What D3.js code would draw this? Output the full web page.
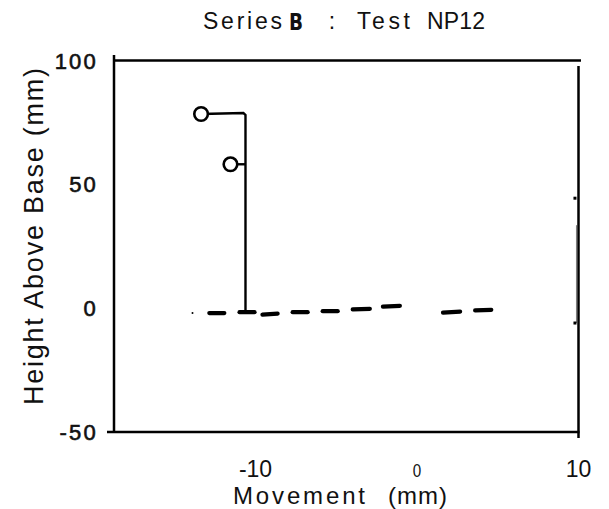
<!DOCTYPE html>
<html>
<head>
<meta charset="utf-8">
<script src="https://cdn.jsdelivr.net/npm/d3@7/dist/d3.min.js"></script>
<style>
  html, body { margin: 0; padding: 0; background: #fff; }
  svg { display: block; }
  text { font-family: "Liberation Sans", Arial, Helvetica, sans-serif; fill: #111; }
  text.heavy { stroke: #111; stroke-width: 0.6px; }
</style>
</head>
<body>
<svg id="chart" width="609" height="509"></svg>
<script>
// ---- data ----
const xTicks = [-10, 0, 10];
const xTickLabels = ["-10", "0", "10"];
const yTicks = [100, 50, 0, -50];
const yTickLabels = ["100", "50", "0", "-50"];

// solid trace: upper arm, then vertical drop to base
const traceMain = [[-13.37, 78.4], [-10.75, 78.8], [-10.62, 78.0], [-10.62, -1.6]];
// branch from second marker to the vertical
const traceBranch = [[-11.55, 58.1], [-10.62, 58.1]];
// circle markers
const markersX = [-13.37, -11.55];
const markersY = [78.4, 58.1];
// base readings (short dashes): start x, end x, heights
const dashX0 = [-12.86, -10.99, -9.57, -7.70, -5.84, -3.98, -2.11, 1.61, 3.60];
const dashX1 = [-11.93, -10.06, -8.63, -6.77, -4.91, -2.92, -1.06, 2.67, 4.60];
const dashY0 = [-2.0, -1.6, -2.6, -1.6, -1.2, -0.5, 0.6, -1.8, -0.9];
const dashY1 = [-2.0, -1.6, -2.2, -1.6, -1.2, -0.3, 0.9, -1.4, -0.7];
const dotX = [-13.9];
const dotY = [-2.0];
// faint marker at right edge
const edgeX = 9.75;
const edgeY = [44.4, -6.0];
const edgeFaintTop = 33.5;

// ---- layout ----
const svg = d3.select("#chart");
const x = d3.scaleLinear().domain([-18.7, 10]).range([115, 578.5]);
const y = d3.scaleLinear().domain([-50, 100]).range([432, 60.5]);

// frame
const frame = svg.append("g").attr("stroke", "#000").attr("stroke-width", 2.5).attr("fill", "none");
frame.append("line").attr("x1", x.range()[0] - 1).attr("x2", x.range()[0] - 1).attr("y1", 55).attr("y2", y(-50) + 1);
frame.append("line").attr("x1", x.range()[0]).attr("x2", 581).attr("y1", y(100)).attr("y2", y(100));
frame.append("line").attr("x1", 107).attr("x2", x(10) + 1).attr("y1", y(-50)).attr("y2", y(-50));
frame.append("line").attr("x1", x(10)).attr("x2", x(10)).attr("y1", 66).attr("y2", 438);

// y tick labels
svg.append("g").selectAll("text").data(yTicks).join("text")
  .attr("class", "heavy")
  .attr("x", 98).attr("y", d => y(d) + 8)
  .attr("text-anchor", "end")
  .attr("font-size", 22)
  .attr("letter-spacing", 2.2)
  .text((d, i) => yTickLabels[i]);

// x tick labels
svg.append("g").selectAll("text").data(xTicks).join("text")
  .attr("x", d => x(d)).attr("y", 477)
  .attr("text-anchor", "middle")
  .attr("font-size", d => d === 0 ? 19 : 23)
  .attr("transform", d => d === 0 ? `translate(${x(d)},477) scale(0.8,1) translate(${-x(d)},-477)` : null)
  .text((d, i) => xTickLabels[i]);

// axis titles
svg.append("text").attr("x", 233).attr("y", 504).attr("font-size", 24)
  .attr("textLength", 132).attr("lengthAdjust", "spacing").text("Movement");
svg.append("text").attr("x", 388).attr("y", 504).attr("font-size", 24)
  .attr("textLength", 59).attr("lengthAdjust", "spacing").text("(mm)");

svg.append("text")
  .attr("transform", "translate(43,405) rotate(-90)")
  .attr("font-size", 27)
  .attr("textLength", 337).attr("lengthAdjust", "spacing")
  .text("Height Above Base (mm)");

// title
const tY = 29;
svg.append("text").attr("x", 203).attr("y", tY).attr("font-size", 23)
  .attr("textLength", 79).attr("lengthAdjust", "spacing").text("Series");
svg.append("text").attr("x", 296).attr("y", tY + 1).attr("font-size", 23).attr("text-anchor", "middle")
  .attr("font-weight", "bold").style("font-family", '"DejaVu Sans", sans-serif')
  .attr("transform", "translate(296,0) scale(0.8,1) translate(-296,0)").text("B");
svg.append("text").attr("x", 332).attr("y", tY).attr("font-size", 23).attr("text-anchor", "middle").text(":");
svg.append("text").attr("x", 357).attr("y", tY).attr("font-size", 23)
  .attr("textLength", 53).attr("lengthAdjust", "spacing").text("Test");
svg.append("text").attr("x", 427).attr("y", tY).attr("font-size", 23)
  .attr("textLength", 58).attr("lengthAdjust", "spacing").text("NP12");

// ---- data marks ----
const line = d3.line().x(d => x(d[0])).y(d => y(d[1]));
const marks = svg.append("g");
marks.append("path").attr("d", line(traceMain)).attr("fill", "none").attr("stroke", "#000").attr("stroke-width", 2.4);
marks.append("path").attr("d", line(traceBranch)).attr("fill", "none").attr("stroke", "#000").attr("stroke-width", 2.4);

marks.selectAll("line.dash").data(dashX0).join("line").attr("class", "dash")
  .attr("x1", (d, i) => x(dashX0[i])).attr("x2", (d, i) => x(dashX1[i]))
  .attr("y1", (d, i) => y(dashY0[i])).attr("y2", (d, i) => y(dashY1[i]))
  .attr("stroke", "#000").attr("stroke-width", 4.2).attr("stroke-linecap", "round");

marks.selectAll("circle.dot").data(dotX).join("circle").attr("class", "dot")
  .attr("cx", d => x(d)).attr("cy", (d, i) => y(dotY[i])).attr("r", 1).attr("fill", "#000");

marks.selectAll("circle.mk").data(markersX).join("circle").attr("class", "mk")
  .attr("cx", d => x(d)).attr("cy", (d, i) => y(markersY[i])).attr("r", 6.8)
  .attr("fill", "#fff").attr("stroke", "#000").attr("stroke-width", 2.6);

// edge marker
marks.append("line").attr("x1", x(edgeX) + 2).attr("x2", x(edgeX) + 2)
  .attr("y1", y(edgeFaintTop)).attr("y2", y(edgeY[1]))
  .attr("stroke", "#777").attr("stroke-width", 1);
marks.selectAll("rect.em").data(edgeY).join("rect").attr("class", "em")
  .attr("x", x(edgeX) - 1).attr("y", d => y(d) - 1.5).attr("width", 3).attr("height", 3).attr("fill", "#000");
</script>
</body>
</html>
